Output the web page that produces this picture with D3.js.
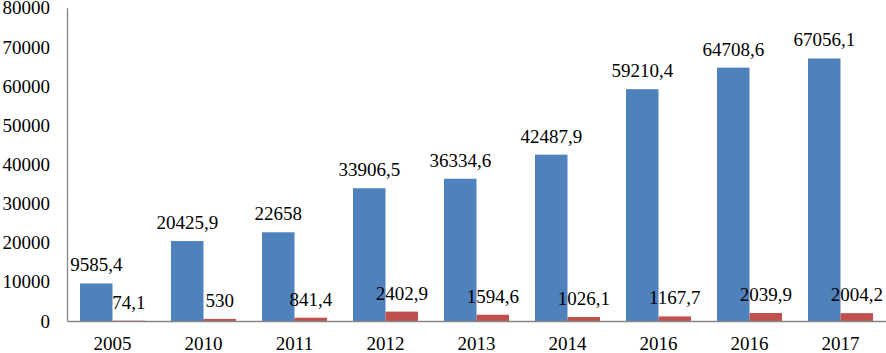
<!DOCTYPE html>
<html lang="en">
  <head>
    <meta charset="UTF-8" />
    <title>bar chart</title>
    <style>
      body { margin: 0; background: #fff; }
    </style>
  </head>
  <body>
    <div class="chart"></div>
    <script src="https://d3js.org/d3.v7.min.js"></script>
    <script>
      // data
      const years = ['2005', '2010', '2011', '2012', '2013', '2014', '2016', '2016', '2017'];
      const seriesA = [9585.4, 20425.9, 22658, 33906.5, 36334.6, 42487.9, 59210.4, 64708.6, 67056.1];
      const seriesB = [74.1, 530, 841.4, 2402.9, 1594.6, 1026.1, 1167.7, 2039.9, 2004.2];
      const yTicks = [0, 10000, 20000, 30000, 40000, 50000, 60000, 70000, 80000];

      const svgWidth = 886, svgHeight = 353;
      const plotLeft = 67, plotRight = 886, plotTop = 7.8, plotBottom = 321;
      const serif = 'Liberation Serif';

      const svg = d3.select('.chart')
                    .append('svg')
                    .attr('width', svgWidth)
                    .attr('height', svgHeight);

      // x: one band per category (index because 2016 appears twice)
      const xScale = d3.scaleBand()
                .domain(years.map((d, i) => i))
                .range([plotLeft, plotRight])
                .padding(0)

      const inner = d3.scaleBand()
                .domain(['a', 'b'])
                .range([13, xScale.bandwidth() - 13])
                .padding(0)

      const yScale = d3.scaleLinear()
                .domain([0, 80000])
                .range([plotBottom, plotTop]);

      // y axis
      const yAxis = svg.append('g')
                .attr('transform', `translate(${plotLeft},0)`)
                .call(d3.axisLeft(yScale).tickValues(yTicks).tickSize(0).tickPadding(17).tickFormat(d3.format('d')))
      yAxis.attr('font-family', serif).attr('font-size', 19)
      yAxis.select('.domain').attr('stroke', '#868686').attr('stroke-width', 1.3)
      yAxis.selectAll('text').attr('fill', '#000')

      // x axis
      const xAxis = svg.append('g')
                .attr('transform', `translate(0,${plotBottom})`)
                .call(d3.axisBottom(xScale).tickSize(0).tickPadding(16).tickFormat(i => years[i]))
      xAxis.attr('font-family', serif).attr('font-size', 19)
      xAxis.select('.domain').attr('stroke', '#868686').attr('stroke-width', 1.3)
      xAxis.selectAll('text').attr('fill', '#000')

      const rows = years.map((y, i) => ({ i, a: seriesA[i], b: seriesB[i] }))
      const fmt = v => String(v).replace('.', ',')

      const groups = svg.selectAll('.cat')
                .data(rows)
                .join('g')
                .attr('class', 'cat')
                .attr('transform', d => `translate(${xScale(d.i)},0)`)

      const series = [
        { key: 'a', color: '#4F81BD' },
        { key: 'b', color: '#C0504D' }
      ]

      series.forEach(s => {
        groups.append('rect')
          .attr('x', inner(s.key))
          .attr('y', d => yScale(d[s.key]))
          .attr('width', inner.bandwidth())
          .attr('height', d => plotBottom - yScale(d[s.key]))
          .attr('fill', s.color)

        groups.append('text')
          .attr('x', inner(s.key) + inner.bandwidth() / 2)
          .attr('y', d => yScale(d[s.key]) - 12)
          .attr('text-anchor', 'middle')
          .attr('font-family', serif)
          .attr('font-size', 19)
          .attr('fill', '#000')
          .text(d => fmt(d[s.key]))
      })

      // redraw axis line on top of bars
      svg.node().appendChild(xAxis.node())
    </script>
  </body>
</html>
